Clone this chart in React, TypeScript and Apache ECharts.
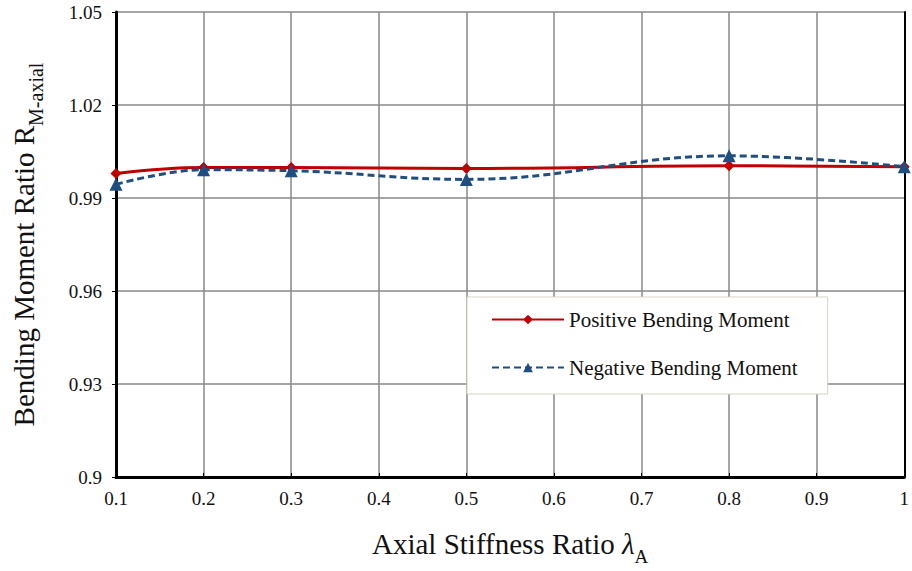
import React, { useEffect, useRef } from "react";
import * as echarts from "echarts";

const xValues = [0.1, 0.2, 0.3, 0.5, 0.8, 1.0];
const positiveMoment = [0.9979, 0.9998, 0.9998, 0.9995, 1.0004, 1.0001];
const negativeMoment = [0.9944, 0.9991, 0.9988, 0.996, 1.0036, 1.0001];
const seriesNames = ["Positive Bending Moment", "Negative Bending Moment"];

const FONT = "Liberation Serif";

export default function App() {
  const ref = useRef<HTMLDivElement>(null);
  useEffect(() => {
    const chart = echarts.init(ref.current!, null, { renderer: "svg" });
    const pairs = (ys: number[]) => xValues.map((x, i) => [x, ys[i]]);
    chart.setOption({
      animation: false,
      backgroundColor: "#ffffff",
      textStyle: { fontFamily: FONT, fontSize: 19 },
      grid: { left: 116, right: 3, top: 12, bottom: 84, containLabel: false },
      legend: {
        orient: "vertical",
        left: 467,
        top: 297,
        padding: [12, 30, 16, 24],
        itemGap: 27,
        itemWidth: 72,
        itemHeight: 12,
        backgroundColor: "#ffffff",
        borderColor: "#d8d4c6",
        borderWidth: 1,
        textStyle: { fontFamily: FONT, fontSize: 21, color: "#111" },
        data: seriesNames,
      },
      xAxis: {
        type: "value",
        min: 0.1,
        max: 1,
        interval: 0.1,
        name: "{n|Axial Stiffness Ratio }{l|λ}{s|A}",
        nameLocation: "middle",
        nameGap: 52,
        nameTextStyle: {
          rich: {
            n: { fontFamily: FONT, fontSize: 29, color: "#111", verticalAlign: "bottom" },
            l: { fontFamily: FONT, fontSize: 29, fontStyle: "italic", color: "#111", verticalAlign: "bottom" },
            s: { fontFamily: FONT, fontSize: 19, color: "#111", verticalAlign: "bottom", padding: [0, 0, -8, 0] },
          },
        },
        axisLine: { show: true, onZero: false, lineStyle: { color: "#000", width: 3 } },
        axisTick: { show: true, inside: true, length: 4, lineStyle: { color: "#000", width: 1 } },
        axisLabel: {
          show: true,
          fontFamily: FONT,
          fontSize: 19,
          color: "#111111",
          margin: 12,
          formatter: (v: number) => (Math.abs(v - 1) < 1e-9 ? "1" : v.toFixed(1)),
        },
        splitLine: { show: true, lineStyle: { color: "#888888", width: 1.5 } },
      },
      yAxis: [
        {
          type: "value",
          min: 0.9,
          max: 1.05,
          interval: 0.03,
          name: "{n|Bending Moment Ratio R}{s|M-axial}",
          nameLocation: "middle",
          nameGap: 78,
          nameRotate: 90,
          nameTextStyle: {
            rich: {
              n: { fontFamily: FONT, fontSize: 29, color: "#111", verticalAlign: "bottom" },
              s: { fontFamily: FONT, fontSize: 20, color: "#111", verticalAlign: "bottom", padding: [0, 0, -8, 0] },
            },
          },
          axisLine: { show: true, onZero: false, lineStyle: { color: "#000", width: 3 } },
          axisTick: { show: true, length: 4, lineStyle: { color: "#000", width: 1 } },
          axisLabel: {
            show: true,
            fontFamily: FONT,
            fontSize: 19,
            color: "#111111",
            margin: 14,
            formatter: (v: number) => String(parseFloat(v.toFixed(2))),
          },
          splitLine: { show: true, lineStyle: { color: "#888888", width: 1.5 } },
        },
        {
          type: "value",
          position: "right",
          min: 0.9,
          max: 1.05,
          interval: 0.03,
          axisLine: { show: true, lineStyle: { color: "#000", width: 2 } },
          axisTick: { show: false },
          axisLabel: { show: false },
          splitLine: { show: false },
        },
      ],
      series: [
        {
          name: seriesNames[0],
          type: "line",
          smooth: 0.4,
          data: pairs(positiveMoment),
          symbol: "diamond",
          symbolSize: 11,
          itemStyle: { color: "#c00000" },
          lineStyle: { color: "#c00000", width: 3 },
          z: 3,
        },
        {
          name: seriesNames[1],
          type: "line",
          smooth: 0.4,
          data: pairs(negativeMoment),
          symbol: "triangle",
          symbolSize: 13,
          itemStyle: { color: "#1f4e80" },
          lineStyle: { color: "#1f4e80", width: 3, type: [7, 4] },
          z: 4,
        },
      ],
    });
    return () => chart.dispose();
  }, []);
  return (
    <div
      ref={ref}
      style={{ position: "fixed", left: 0, top: 0, width: 912, height: 571 }}
    />
  );
}
